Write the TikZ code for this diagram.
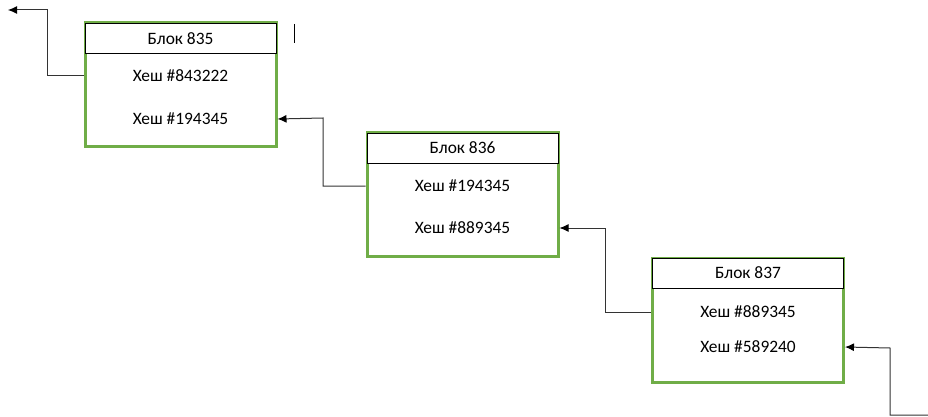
\documentclass[tikz,border=0pt]{standalone}
\usepackage{fontspec}
\setmainfont{Carlito}
\usetikzlibrary{arrows.meta}
\definecolor{blkgreen}{HTML}{70AD47}
\tikzset{
  block/.style={draw=blkgreen, line width=3pt, minimum width=191pt, minimum height=124pt, inner sep=0pt},
  header/.style={draw=black, line width=1pt, fill=white, minimum width=191pt, minimum height=30pt, inner sep=0pt, font=\fontsize{17.4}{20}\selectfont},
  hash/.style={font=\fontsize{17.4}{20}\selectfont, inner sep=1pt},
  link/.style={draw=black!80, line width=1pt, -{Latex[length=9pt,width=8pt,black]}},
}
\begin{document}
\begin{tikzpicture}[x=1pt,y=-1pt]
\useasboundingbox (0,0) rectangle (928,417);
% Block 835
\node[block] (b1) at (180.5,84.5) {};
\node[header] (h1) at (180.5,38.5) {Блок 835};
\node[hash] (t11) at (180.5,76) {Хеш \#843222};
\node[hash] (t12) at (180.5,119) {Хеш \#194345};
% Block 836
\node[block] (b2) at (462.5,194.5) {};
\node[header] (h2) at (462.5,148) {Блок 836};
\node[hash] (t21) at (462.5,186) {Хеш \#194345};
\node[hash] (t22) at (462.5,228) {Хеш \#889345};
% Block 837
\node[block] (b3) at (748,320) {};
\node[header] (h3) at (748,273) {Блок 837};
\node[hash] (t31) at (748,312) {Хеш \#889345};
\node[hash] (t32) at (748,347) {Хеш \#589240};
% free ends
\coordinate (e0) at (8,10);
\coordinate (e4) at (928,415);
\coordinate (k1) at (294,24);
\coordinate (k2) at (294,43);
% connectors
\draw[link] (b1.west |- t11) -| (47,10) -- (e0);
\draw[link] (b2.west |- t21) -| (323,118) -- (b1.east |- t12);
\draw[link] (b3.west |- t31) -| (605,228) -- (b2.east |- t22);
\draw[link] (e4) -| (890,348) -- (b3.east |- t32);
% stray mark
\draw[black, line width=1pt] (k1) -- (k2);
\end{tikzpicture}
\end{document}
